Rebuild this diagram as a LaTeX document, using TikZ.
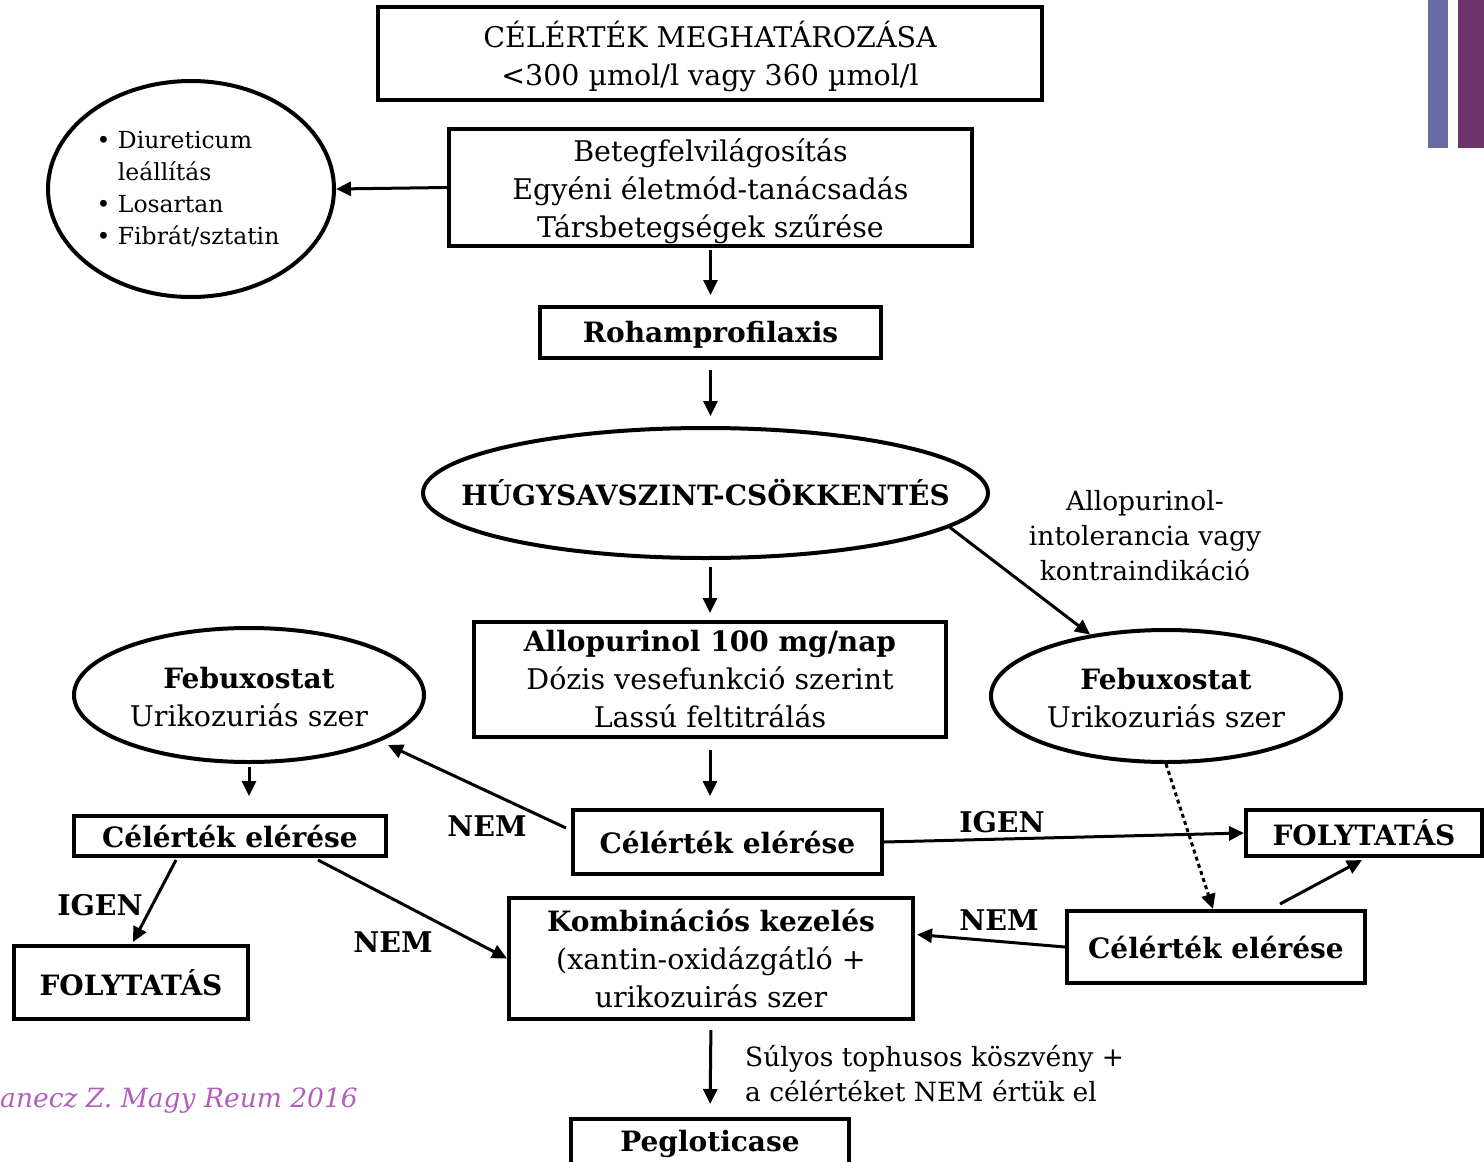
\documentclass[tikz,border=0pt]{standalone}
\usepackage{fontspec}
\setmainfont{DejaVu Serif}
\usetikzlibrary{arrows.meta,shapes.geometric,calc}
\definecolor{barA}{RGB}{104,108,160}
\definecolor{barB}{RGB}{108,52,104}
\definecolor{cite}{RGB}{178,96,188}
\newcommand{\bfx}{\bfseries\fontsize{28}{38}\selectfont}
\tikzset{
  boxn/.style={draw,line width=4pt,rectangle,inner sep=0pt,align=center},
  elln/.style={draw,line width=4pt,ellipse,inner sep=0pt},
  reg/.style={font=\fontsize{28.5}{38}\selectfont},
  bld/.style={font=\bfx},
  txt/.style={inner sep=0pt,align=center},
  lbl/.style={inner sep=0pt,font=\bfseries\fontsize{28.5}{30}\selectfont},
  arr/.style={line width=3pt,-{Triangle[length=15pt,width=14pt]}},
}
\begin{document}
\begin{tikzpicture}[x=1pt,y=-1pt]
\useasboundingbox (0,0) rectangle (1484,1162);
\fill[barA] (1428,0) rectangle (1448,148);
\fill[barB] (1458,0) rectangle (1484,148);

\node[boxn,reg,minimum width=664pt,minimum height=93pt] (top) at (710,53.5)
  {\rule{0pt}{31.5pt}CÉLÉRTÉK MEGHATÁROZÁSA\\<300 µmol/l vagy 360 µmol/l};
\node[elln,minimum width=286pt,minimum height=216pt,
  label={[txt,align=left,xshift=-3pt,font=\fontsize{23.5}{32}\selectfont]center:• Diureticum\\\phantom{• }leállítás\\• Losartan\\• Fibrát/sztatin}] (ell1) at (191,189) {};
\node[boxn,reg,minimum width=523pt,minimum height=117pt] (box2) at (710.5,187.5)
  {\rule{0pt}{29.7pt}Betegfelvilágosítás\\Egyéni életmód-tanácsadás\\Társbetegségek szűrése};
\node[boxn,bld,minimum width=341pt,minimum height=51pt] (roham) at (710.5,332.5)
  {\rule{0pt}{26pt}Rohamprofilaxis};
\node[elln,minimum width=565pt,minimum height=130pt,
  label={[txt,bld]center:HÚGYSAVSZINT-CSÖKKENTÉS}] (hugy) at (705.5,493) {};
\node[boxn,reg,minimum width=472pt,minimum height=115pt] (allo) at (710,679.5)
  {{\bfx Allopurinol 100 mg/nap}\\Dózis vesefunkció szerint\\Lassú feltitrálás};
\node[elln,minimum width=350pt,minimum height=132pt,
  label={[txt,reg,yshift=-2pt]center:{\bfx Febuxostat}\\Urikozuriás szer}] (febR) at (1166,696) {};
\node[elln,minimum width=350pt,minimum height=134pt,
  label={[txt,reg,yshift=-2pt]center:{\bfx Febuxostat}\\Urikozuriás szer}] (febL) at (249,695) {};
\node[boxn,bld,minimum width=309pt,minimum height=64pt] (celM) at (727.5,842)
  {Célérték elérése};
\node[boxn,bld,minimum width=236pt,minimum height=46pt] (folR) at (1364,833)
  {FOLYTATÁS};
\node[boxn,bld,minimum width=298pt,minimum height=72pt] (celR) at (1216,947)
  {Célérték elérése};
\node[boxn,reg,minimum width=404pt,minimum height=121pt] (komb) at (711,958.5)
  {{\bfx Kombinációs kezelés}\\(xantin-oxidázgátló +\\urikozuirás szer};
\node[boxn,bld,minimum width=312pt,minimum height=40pt] (celL) at (230,836)
  {Célérték elérése};
\node[boxn,bld,minimum width=234pt,minimum height=73pt] (folL) at (131,982.5)
  {FOLYTATÁS};
\node[boxn,bld,minimum width=278pt,minimum height=49pt] (peg) at (710,1143.5)
  {Pegloticase};

% labels
\node[lbl] (n1) at (487,826) {NEM};
\node[lbl] (i1) at (1002,822) {IGEN};
\node[lbl] (n2) at (999,920) {NEM};
\node[lbl] (i2) at (100,905) {IGEN};
\node[lbl] (n3) at (393,942) {NEM};
\node[txt,font=\fontsize{26.5}{35}\selectfont] (ai) at (1145,536)
  {Allopurinol-\\intolerancia vagy\\kontraindikáció};
\node[align=left,anchor=west,inner sep=0pt,font=\fontsize{26.5}{35}\selectfont] (sul) at (745,1074)
  {Súlyos tophusos köszvény +\\a célértéket NEM értük el};
\node[anchor=east,inner sep=0pt,text=cite,font=\itshape\fontsize{26.5}{30}\selectfont] (ref) at (358,1101)
  {anecz Z. Magy Reum 2016};

% connectors
\draw[arr] (box2.west) -- (ell1.east);
\draw[arr,shorten <=2pt,shorten >=10pt] (box2.south) -- (box2.south |- roham.north);
\draw[arr,shorten <=10pt,shorten >=10pt] (roham.south) -- (roham.south |- hugy.north);
\draw[arr,shorten <=7pt,shorten >=7pt] (hugy.south -| allo.north) -- (allo.north);
\draw[arr] (hugy.-8.5) -- (febR.141);
\draw[arr,shorten <=11pt,shorten >=12pt] (allo.south) -- (allo.south |- celM.north);
\draw[arr] ($(celM.west)+(-5,-14)$) -- ($(febL.center)+(139,50)$);
\draw[arr] (celM.east) -- (folR.west);
\draw[line width=3pt,dash pattern=on 4pt off 3.5pt,-{Triangle[length=15pt,width=14pt]}]
  (febR.south) -- ($(celR.north)+(-3,0)$);
\draw[arr] ($(celR.north)+(64,-5)$) -- ($(folR.south)+(-2,2)$);
\draw[arr] (celR.west) -- ($(komb.east)+(2,-24)$);
\draw[arr,shorten <=3pt,shorten >=18pt] (febL.south) -- (febL.south |- celL.north);
\draw[arr] ($(celL.south)+(-54,2)$) -- ($(folL.north)+(2,-2)$);
\draw[arr] ($(celL.south)+(88,2)$) -- (komb.west);
\draw[arr,shorten <=9pt,shorten >=13pt] (komb.south) -- (peg.north);
\end{tikzpicture}
\end{document}
